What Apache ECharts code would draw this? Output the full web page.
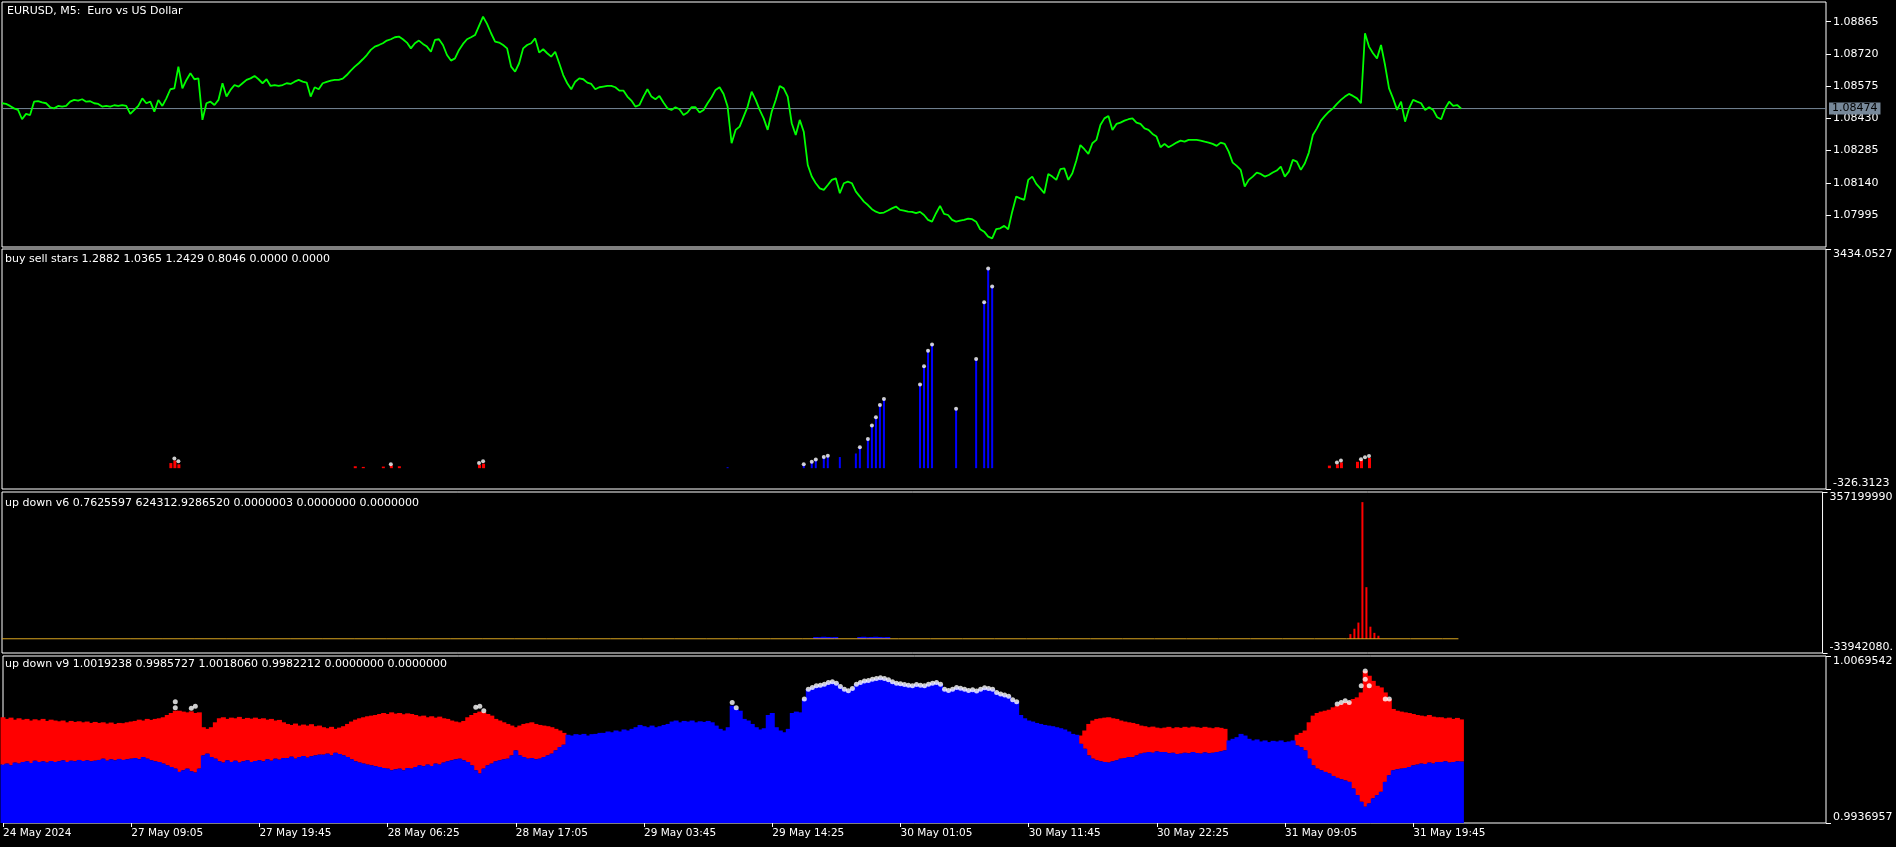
<!DOCTYPE html>
<html><head><meta charset="utf-8">
<script src="https://cdn.jsdelivr.net/npm/echarts@6/dist/echarts.min.js"></script>
<style>html,body{margin:0;padding:0;background:#000;overflow:hidden}#c{width:1896px;height:847px;background:#000}</style>
</head><body><div id="c"></div>
<script>
// ---------------- DATA ----------------
// one sample every 4 bars (20 minutes) of the M5 chart, k = 0..364
const price = [
1.08498,1.08495,1.08486,1.08475,1.08468,1.08426,1.0845,1.08445,1.08505,1.08508,
1.08502,1.08498,1.0848,1.08475,1.08486,1.08483,1.08486,1.08505,1.08513,1.0851,
1.08516,1.08505,1.08507,1.08498,1.08495,1.08483,1.08486,1.08483,1.08489,1.08486,
1.0849,1.08486,1.0845,1.08468,1.08486,1.0852,1.08498,1.08505,1.0846,1.08513,
1.08486,1.0852,1.08561,1.08565,1.08663,1.08565,1.08603,1.08633,1.08606,1.0861,
1.08423,1.08498,1.08505,1.0849,1.08513,1.08588,1.08528,1.08558,1.0858,1.08573,
1.08588,1.08603,1.0861,1.08621,1.08606,1.08588,1.08606,1.08576,1.0858,1.08576,
1.0858,1.08588,1.08585,1.08595,1.08603,1.08595,1.08591,1.08528,1.0857,1.08561,
1.08588,1.08594,1.086,1.08603,1.08603,1.08609,1.08625,1.08645,1.08663,1.08678,
1.08696,1.08715,1.08738,1.08753,1.0876,1.08768,1.0878,1.08786,1.08795,1.08798,
1.08786,1.08771,1.08745,1.08768,1.0878,1.08765,1.08753,1.0873,1.08783,1.08786,
1.0876,1.08715,1.0869,1.087,1.08738,1.08765,1.08786,1.08795,1.08805,1.08846,
1.08888,1.08855,1.08813,1.08775,1.08771,1.0876,1.08745,1.08663,1.0864,1.08678,
1.08745,1.0876,1.08768,1.0879,1.08726,1.08741,1.08723,1.08708,1.0873,1.08678,
1.08625,1.08588,1.08561,1.08595,1.0861,1.08606,1.08591,1.08585,1.08561,1.0857,
1.08573,1.08576,1.08576,1.0857,1.08555,1.08555,1.08528,1.0851,1.08483,1.0849,
1.08528,1.08561,1.08528,1.08516,1.08531,1.08501,1.08475,1.08468,1.0848,1.08471,
1.08445,1.08456,1.0848,1.0848,1.08456,1.08468,1.08498,1.08525,1.08558,1.0857,
1.0854,1.08483,1.08318,1.08378,1.08393,1.08438,1.08483,1.0855,1.08513,1.08468,
1.0843,1.08378,1.0846,1.08513,1.08576,1.08565,1.08528,1.08408,1.08355,1.08423,
1.0837,1.0822,1.08168,1.08138,1.08115,1.08108,1.0813,1.08153,1.0816,1.08093,
1.08138,1.08145,1.08138,1.081,1.08078,1.08055,1.0804,1.08021,1.0801,1.08003,
1.08006,1.08015,1.08025,1.08033,1.08018,1.08015,1.0801,1.08009,1.08003,1.08009,
1.07995,1.07973,1.07965,1.08003,1.08036,1.08,1.07995,1.07973,1.07965,1.0797,
1.07973,1.07979,1.07976,1.07965,1.07931,1.0792,1.07898,1.0789,1.07931,1.07935,
1.07946,1.07931,1.0801,1.08078,1.0807,1.08063,1.08153,1.08168,1.08135,1.08115,
1.08093,1.0818,1.08168,1.08153,1.08201,1.08205,1.08153,1.08183,1.0824,1.0831,
1.08291,1.0827,1.08318,1.08333,1.084,1.0843,1.08441,1.08378,1.08405,1.08411,
1.0842,1.08426,1.0843,1.08411,1.08405,1.08385,1.08378,1.0836,1.08348,1.083,
1.08315,1.083,1.0831,1.08321,1.0833,1.08325,1.08333,1.08333,1.08333,1.0833,
1.08325,1.08321,1.08315,1.08306,1.08321,1.08315,1.0828,1.08231,1.08216,1.08198,
1.08123,1.08153,1.08168,1.08186,1.0818,1.08168,1.08175,1.08186,1.08195,1.08213,
1.08168,1.0819,1.08243,1.08235,1.08198,1.08228,1.08276,1.08355,1.08385,1.0842,
1.08441,1.0846,1.08475,1.08495,1.08513,1.08528,1.0854,1.08531,1.0852,1.08498,
1.08813,1.08753,1.08723,1.087,1.0876,1.0867,1.08565,1.0852,1.08468,1.08505,
1.08415,1.08475,1.08513,1.08505,1.08498,1.08468,1.0848,1.08468,1.08435,1.08426,
1.08475,1.08505,1.08486,1.0849,1.08474];
const lastPrice = 1.08474;
const priceTicks = [1.07995,1.08140,1.08285,1.08430,1.08575,1.08720,1.08865];

// panel 2 "buy sell stars": [k, value]
const bssBlue = [[181,15],[200,61],[202,100],[203,136],[205,174],[206,193],[209,174],[213,230],[214,326],[216,459],[217,667],[218,799],[219,989],[220,1084],[229,1311],[230,1595],[231,1841],[232,1937],[238,932],[243,1709],[245,2600],[246,3130],[247,2845]];
const bssRed = [[42,80],[43,120],[44,60],[88,30],[90,20],[95,25],[97,40],[99,30],[119,50],[120,70],[331,40],[333,60],[334,90],[338,100],[339,130],[341,160]];
const bssStars = [[43,150],[44,110],[97,60],[119,80],[120,110],[200,61],[202,100],[203,136],[205,174],[206,193],[214,326],[216,459],[217,667],[218,799],[219,989],[220,1084],[229,1311],[230,1595],[231,1841],[232,1937],[238,932],[243,1709],[245,2600],[246,3130],[247,2845],[333,90],[334,120],[339,140],[340,170],[341,190]];

// panel 3 "up down v6"
const v6Line = [[0,620000],[8,610000],[16,640000],[24,600000],[32,630000],[40,620000],[48,650000],[56,610000],[64,600000],[72,630000],[80,640000],[88,620000],[96,610000],[104,600000],[112,630000],[120,650000],[128,620000],[136,600000],[144,610000],[152,630000],[160,620000],[168,640000],[176,600000],[184,620000],[192,610000],[200,630000],[208,620000],[216,640000],[224,600000],[232,610000],[240,620000],[248,630000],[256,600000],[264,640000],[272,620000],[280,610000],[288,600000],[296,630000],[304,620000],[312,640000],[320,610000],[328,600000],[336,620000],[344,630000],[352,610000],[360,620000],[364,624313]];
const v6Blue = [[203,5000000],[204,4500000],[205,5500000],[206,5000000],[207,4500000],[208,5000000],[214,5000000],[215,5500000],[216,4500000],[217,5000000],[218,5500000],[219,5000000],[220,4500000],[221,5000000]];
const v6Red = [[337,12000000],[338,25000000],[339,40000000],[340,332600000],[341,126000000],[342,30000000],[343,15000000],[344,8000000]];

// panel 4 "up down v9": red band segments (hi / lo) and blue histogram segments
const band1Start = 0;
const band1Hi = [1.00209,1.00196,1.00206,1.0019,1.00201,
1.0019,1.00196,1.00183,1.00193,1.00185,1.00196,1.0018,1.0019,1.00183,
1.00177,1.00183,1.00169,1.0018,1.00172,1.00177,1.00169,1.00175,1.00164,1.00172,
1.00164,1.00169,1.00159,1.00167,1.00156,1.00164,1.00162,1.00169,1.00175,
1.0018,1.0019,1.00183,1.00196,1.00188,1.00196,1.00201,1.00209,
1.00227,1.00243,1.00261,
1.00261,1.00254,1.00248,1.00256,1.00243,
1.00248,
1.0013,1.00117,1.0013,1.00169,
1.00201,1.00209,1.00196,1.00206,1.00201,1.00212,1.00196,1.00204,1.00198,1.00206,1.00196,1.00201,1.0019,1.00196,1.00183,1.00188,1.00169,
1.00156,1.00148,1.00159,1.00143,1.00151,1.00143,1.00154,1.00138,1.00143,
1.0013,1.00122,1.00133,1.00117,1.00127,1.00138,1.00156,
1.00175,1.0019,1.00201,1.00209,1.00217,1.00222,1.00227,
1.00235,1.00243,1.00235,1.00248,1.00238,1.00243,1.00233,1.0024,1.00235,
1.00227,1.00217,1.00222,1.00209,1.00217,1.00206,1.00214,1.00201,1.00196,1.00183,
1.00175,1.00169,1.0018,
1.00209,1.00227,1.00243,1.00254,1.00248,1.00235,1.00222,
1.00196,1.00183,1.00169,1.00156,1.00143,
1.0013,1.00143,1.00156,1.00162,1.00169,1.00156,1.00148,1.00143,1.00138,1.0013,1.00117,1.00104,1.00085];
const band1Lo = [0.99833,0.99841,0.99827,0.99849,0.99841,
0.99854,0.99859,0.99846,0.99864,0.99854,0.99859,0.99849,0.99862,0.99854,
0.99859,0.99867,0.99854,0.99864,0.99859,0.9987,0.99862,0.99867,0.99859,0.99864,
0.9987,0.9988,0.99864,0.99875,0.99867,0.99878,0.9987,0.99875,0.9988,
0.99885,0.99875,0.99893,0.9988,0.99867,0.99859,0.99854,0.99841,
0.99827,0.99814,0.99801,
0.99775,0.99788,0.99801,0.9978,0.9977,
0.99801,
0.99906,0.9992,0.99893,0.9988,
0.99859,0.99849,0.99867,0.99854,0.99864,0.99849,0.99859,0.99867,0.99854,0.99862,0.99867,0.99859,0.99875,0.99864,0.9988,0.99872,0.99885,
0.99885,0.99896,0.9988,0.99893,0.99901,0.99888,0.99899,0.99906,0.99912,
0.99912,0.9992,0.99906,0.99927,0.99917,0.99906,0.99893,
0.99875,0.99859,0.99849,0.99841,0.99833,0.99827,0.9982,
0.99814,0.99806,0.99801,0.99788,0.99796,0.99801,0.99788,0.99806,0.99801,
0.99814,0.99827,0.9982,0.99833,0.99822,0.99841,0.99833,0.99849,0.99859,0.99867,
0.99875,0.9988,0.99867,
0.99854,0.99827,0.99788,0.99762,0.99801,0.99827,0.99841,
0.99859,0.99867,0.99875,0.9988,0.99906,
0.99946,0.99906,0.99893,0.9988,0.99885,0.99875,0.9988,0.99893,0.99906,0.9992,0.99946,0.99972,0.99991];
const blue1Start = 141;
const blue1 = [1.0007,1.00064,1.00075,1.0007,1.00077,1.00064,1.00075,1.00077,1.00085,
1.00085,1.00096,1.0009,1.00104,1.00096,1.00112,1.00104,1.00117,1.0013,
1.00148,1.00138,1.0013,1.00143,1.0013,1.00138,1.00148,1.00156,
1.00175,1.00183,1.00169,1.0018,1.00175,1.00183,1.00169,1.00177,1.00172,1.0018,1.00169,
1.00143,1.00117,1.00104,1.0013,
1.00301,1.00275,1.00261,
1.00196,1.00183,1.00156,
1.0013,1.00112,1.00122,
1.00227,1.00243,
1.0013,1.00104,1.0009,1.00117,
1.00243,1.00254,1.00248,1.00354,
1.00432,1.00446,1.00459,1.00464,
1.00472,1.00485,1.0049,1.0048,
1.00453,1.00432,1.00419,1.00438,
1.00472,1.00485,1.00496,1.00501,
1.00511,1.00517,1.00522,1.00517,1.00506,
1.0049,1.0048,1.00475,
1.00469,1.00464,1.00459,1.00469,1.00464,1.00459,1.00472,
1.0048,1.00485,1.00472,
1.00432,1.00422,1.00432,
1.00446,1.0044,
1.00432,1.00422,1.00427,1.00417,1.00432,
1.00443,1.00438,1.00432,
1.00406,1.00393,1.00385,1.00375,
1.00348,1.00332,
1.00227,1.00201,1.00183,1.00175,
1.00164,1.00156,1.00148,1.00143,1.00138,
1.0013,1.00122,1.00112,1.00096,
1.00077,1.0007];
const band2Start = 269;
const band2Hi = [1.00064,1.00104,1.00156,1.00183,1.00196,1.00201,1.00206,1.00209,1.00201,1.00196,1.00183,1.00175,1.00169,1.00164,1.00156,1.00143,1.00138,1.0013,1.00135,1.00127,1.00122,1.00127,1.00133,1.00122,1.0013,1.00125,1.00133,1.00127,1.00135,1.0013,1.00125,1.00133,1.00127,1.00122,1.0013,1.00125,1.00117];
const band2Lo = [0.99998,0.99959,0.99906,0.9988,0.99867,0.99859,0.99854,0.99849,0.99859,0.99867,0.9988,0.99885,0.99893,0.99891,0.99906,0.9992,0.99927,0.99933,0.99927,0.99938,0.99933,0.99933,0.99922,0.99927,0.99917,0.9992,0.99927,0.99922,0.99933,0.99925,0.9992,0.9993,0.99922,0.99927,0.99933,0.99938,0.99946];
const blue2Start = 306;
const blue2 = [1.00025,1.00038,1.00051,1.00077,1.00064,1.00038,1.00025,1.00033,1.00017,1.00025,1.00012,1.00022,1.00017,1.00025,1.00012,1.00017,1.00025];
const band3Start = 323;
const band3Hi = [1.0007,1.00085,1.00104,1.00169,1.00222,1.00243,1.00254,1.00261,1.00269,1.00288,1.00301,1.00314,1.00327,1.00332,1.00354,1.00367,1.00406,1.00577,1.00538,1.00498,1.00459,1.00446,1.00406,1.00354,1.00275,1.00261,1.00254,1.00248,1.00243,1.00235,1.00227,1.00222,1.00217,1.00227,1.00214,1.00209,1.00209,1.00201,1.00206,1.00196,1.00204,1.00192];
const band3Lo = [0.99985,0.99972,0.99946,0.9988,0.99827,0.99801,0.99788,0.99775,0.99762,0.99743,0.99728,0.99717,0.99707,0.99696,0.99643,0.99591,0.99538,0.99499,0.99525,0.99565,0.99591,0.99617,0.99696,0.99749,0.99788,0.99796,0.99801,0.99806,0.99814,0.99827,0.99833,0.99841,0.99838,0.99849,0.99841,0.99854,0.99854,0.99859,0.99849,0.99854,0.99859,0.99857];
const v9Stars = [[43,1.00332],[43,1.00284],[47,1.0028],[48,1.00296],[118,1.00288],[119,1.00296],[120,1.00261],[182,1.00327],[183,1.00284],
[200,1.00354],[201,1.00432],[202,1.00446],[203,1.00459],[204,1.00464],[205,1.00472],[206,1.00485],[207,1.0049],[208,1.0048],[209,1.00453],[210,1.00432],[211,1.00419],[212,1.00438],[213,1.00472],[214,1.00485],[215,1.00496],[216,1.00501],[217,1.00511],[218,1.00517],[219,1.00522],[220,1.00517],[221,1.00506],[222,1.0049],[223,1.0048],[224,1.00475],[225,1.00469],[226,1.00464],[227,1.00459],[228,1.00469],[229,1.00464],[230,1.00459],[231,1.00472],[232,1.0048],[233,1.00485],[234,1.00472],[235,1.00432],[236,1.00422],[237,1.00432],[238,1.00446],[239,1.0044],[240,1.00432],[241,1.00422],[242,1.00427],[243,1.00417],[244,1.00432],[245,1.00443],[246,1.00438],[247,1.00432],[248,1.00406],[249,1.00393],[250,1.00385],[251,1.00375],[252,1.00348],[253,1.00332],
[333,1.00314],[334,1.00327],[335,1.00340],[336,1.00327],[339,1.00459],[340,1.00577],[340,1.00511],[341,1.00459],[345,1.00354],[346,1.00354]];

// axis ranges / labels
const p1Min = 1.07851, p1Max = 1.089537;
const p2Min = -326.3123, p2Max = 3434.0527;
const p3Min = -33942080, p3Max = 357199990;
const p4Min = 0.9936957, p4Max = 1.0069542;
const p3MaxText = '357199990', p3MinText = '-33942080.';
const titles = ['EURUSD, M5:  Euro vs US Dollar',
 'buy sell stars 1.2882 1.0365 1.2429 0.8046 0.0000 0.0000',
 'up down v6 0.7625597 624312.9286520 0.0000003 0.0000000 0.0000000',
 'up down v9 1.0019238 0.9985727 1.0018060 0.9982212 0.0000000 0.0000000'];
const firstLabel = '24 May 2024';

// ---------------- BUILD ----------------
const NCAT = 456, NDATA = price.length;
const MON = ['Jan','Feb','Mar','Apr','May','Jun','Jul','Aug','Sep','Oct','Nov','Dec'];
function barTime(i){ // M5 bars, Friday 24 May 22:25 ... then Monday 27 May 00:00
  return i < 19 ? Date.UTC(2024,4,24,22,25) + i*300000 : Date.UTC(2024,4,27,0,0) + (i-19)*300000;
}
const cats = [];
for (let k = 0; k < NCAT; k++) {
  const d = new Date(barTime(4*k));
  const p = n => String(n).padStart(2,'0');
  cats.push(d.getUTCDate() + ' ' + MON[d.getUTCMonth()] + ' ' + p(d.getUTCHours()) + ':' + p(d.getUTCMinutes()));
}
function seg(start, arr){ return arr.map((v,i)=>[start+i, v]); }
function band(start, hi, lo){ return hi.map((h,i)=>[start+i, lo[i], h]); }
const redBand = [].concat(band(band1Start,band1Hi,band1Lo), band(band2Start,band2Hi,band2Lo), band(band3Start,band3Hi,band3Lo));
const blueBars = [].concat(seg(band1Start,band1Lo), seg(blue1Start,blue1), seg(band2Start,band2Lo), seg(blue2Start,blue2), seg(band3Start,band3Lo));

const FF = 'DejaVu Sans';
const W = '#ffffff';
const grids = [
  {left:2, top:2, width:1824, height:245},
  {left:2, top:249, width:1824, height:240},
  {left:2, top:492, width:1824, height:161},
  {left:2, top:656, width:1824, height:167}
].map(g => Object.assign(g, {show:true, borderColor:W, borderWidth:1, backgroundColor:'transparent'}));

const tickOk = (i) => i % 32 === 0 && i < NDATA;
const xAxes = [0,1,2,3].map(gi => ({
  type:'category', gridIndex:gi, data:cats, boundaryGap:false,
  axisLine:{show:false},
  axisTick:{show: gi===3, interval: tickOk, length:4, lineStyle:{color:W}},
  axisLabel:{show: gi===3, interval: tickOk, align:'left', color:W, fontFamily:FF, fontSize:10.5, margin:5,
    formatter:(v,i)=> i===0 ? firstLabel : v},
  splitLine:{show:false}
}));

function yAx(gi, min, max, vals, fmt, edge){
  const a = {type:'value', gridIndex:gi, position:'right', min:min, max:max, scale:true,
    axisLine:{show:false}, splitLine:{show:false},
    axisTick:{show:true, length:5, lineStyle:{color:W}, customValues: vals},
    axisLabel:{show:true, color:W, fontFamily:FF, fontSize:11, margin:7, customValues: vals, formatter: fmt}};
  if (edge) { a.axisLabel.verticalAlignMinLabel = 'bottom'; a.axisLabel.verticalAlignMaxLabel = 'top'; }
  return a;
}
const yAxes = [
  yAx(0, p1Min, p1Max, priceTicks, v => v.toFixed(5), false),
  yAx(1, p2Min, p2Max, [p2Min, p2Max], v => v.toFixed(4), true),
  yAx(2, p3Min, p3Max, [p3Min, p3Max], v => v > 0 ? p3MaxText : p3MinText, true),
  yAx(3, p4Min, p4Max, [p4Min, p4Max], v => v.toFixed(7), true)
];

const series = [
  // current bid line with its price label
  {type:'line', xAxisIndex:0, yAxisIndex:0, data:[[0,lastPrice],[NCAT-1,lastPrice]], showSymbol:false, symbol:'none',
   lineStyle:{color:'#778899', width:1}, z:2, silent:true,
   endLabel:{show:true, distance:3, formatter: lastPrice.toFixed(5), backgroundColor:'#778899', color:'#000',
     fontFamily:FF, fontSize:11, padding:[1,3,0,3]}},
  {type:'line', xAxisIndex:0, yAxisIndex:0, data:price, showSymbol:false, symbol:'none',
   lineStyle:{color:'#00ff00', width:1.8}, z:3},
  {type:'bar', xAxisIndex:1, yAxisIndex:1, data:bssRed, barWidth:3, barGap:'-100%', itemStyle:{color:'#ff0000'}},
  {type:'bar', xAxisIndex:1, yAxisIndex:1, data:bssBlue, barWidth:2, barGap:'-100%', itemStyle:{color:'#0000ff'}},
  {type:'scatter', xAxisIndex:1, yAxisIndex:1, data:bssStars, symbolSize:4, itemStyle:{color:W}, z:4},
  {type:'line', xAxisIndex:2, yAxisIndex:2, data:v6Line, showSymbol:false, symbol:'none', lineStyle:{color:'#daa520', width:1}},
  {type:'bar', xAxisIndex:2, yAxisIndex:2, data:v6Blue, barWidth:5, barGap:'-100%', itemStyle:{color:'#0000ff'}},
  {type:'bar', xAxisIndex:2, yAxisIndex:2, data:v6Red, barWidth:2, barGap:'-100%', itemStyle:{color:'#ff0000'}},
  {type:'bar', xAxisIndex:3, yAxisIndex:3, data:blueBars, barWidth:5, barGap:'-100%', itemStyle:{color:'#0000ff'}},
  {type:'custom', xAxisIndex:3, yAxisIndex:3, data:redBand, encode:{x:0, y:[1,2]},
   renderItem:(params, api)=>{
     const k = api.value(0), lo = api.value(1), hi = api.value(2);
     const p1 = api.coord([k, hi]), p2 = api.coord([k, lo]);
     return {type:'rect', shape:{x:p1[0]-2.5, y:p1[1], width:5, height:p2[1]-p1[1]}, style:{fill:'#ff0000'}};
   }},
  {type:'scatter', xAxisIndex:3, yAxisIndex:3, data:v9Stars, symbolSize:5, itemStyle:{color:W}, z:5}
];

const tops = [6, 254, 497.5, 658.5];
const title = titles.map((t,i)=>({text:t, left: i===0 ? 7 : 5, top: tops[i], padding:0,
  textStyle:{color:W, fontFamily:FF, fontSize:11, fontWeight:'normal'}}));

const chart = echarts.init(document.getElementById('c'), null, {renderer:'canvas'});
chart.setOption({backgroundColor:'#000', animation:false, title:title, grid:grids, xAxis:xAxes, yAxis:yAxes, series:series});
</script></body></html>
